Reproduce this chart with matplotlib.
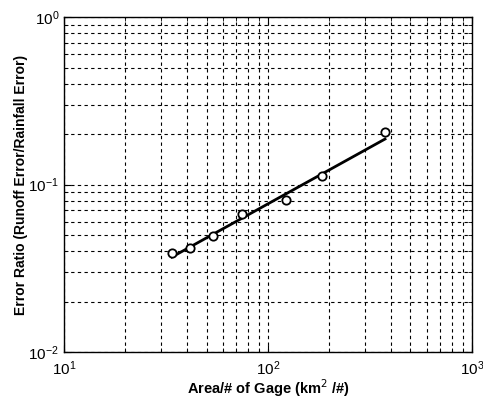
import matplotlib
matplotlib.use("Agg")
import matplotlib.pyplot as plt
from matplotlib.ticker import LogLocator, NullFormatter

plt.rcParams['font.family'] = ['Liberation Sans', 'DejaVu Sans']

area = [33.8, 41.5, 53.7, 74.6, 122, 184, 375]
ratio = [0.039, 0.0418, 0.0493, 0.0667, 0.0807, 0.1125, 0.2056]
fit_x = [33.8, 375]
fit_y = [0.0369, 0.187]

fig = plt.figure(figsize=(4.83, 3.98), dpi=100)
ax = fig.add_axes([0.1325, 0.1156, 0.8445, 0.8414])
ax.set_xscale('log')
ax.set_yscale('log')
ax.set_xlim(10, 1000)
ax.set_ylim(0.01, 1)

ax.plot(fit_x, fit_y, color='black', lw=2, zorder=3)
ax.plot(area, ratio, 'o', mfc='white', mec='black', ms=6, mew=1.3, zorder=4)

ax.xaxis.set_major_locator(LogLocator(base=10))
ax.yaxis.set_major_locator(LogLocator(base=10))
ax.xaxis.set_minor_locator(LogLocator(base=10, subs=range(2, 10)))
ax.yaxis.set_minor_locator(LogLocator(base=10, subs=range(2, 10)))
ax.xaxis.set_minor_formatter(NullFormatter())
ax.yaxis.set_minor_formatter(NullFormatter())

ax.grid(True, which='both', color='black', linestyle=(0, (3, 3)), linewidth=0.8)
ax.tick_params(which='both', direction='in', top=True, right=True, labelsize=11)
ax.tick_params(which='major', length=5)
ax.tick_params(which='minor', length=3)
ax.tick_params(axis='x', pad=5)
for s in ax.spines.values():
    s.set_linewidth(1.0)

ax.set_xlabel('Area/# of Gage (km$^2$ /#)', fontsize=10.5, fontweight='bold', labelpad=0)
ax.set_ylabel('Error Ratio (Runoff Error/Rainfall Error)', fontsize=10, fontweight='bold', labelpad=0)

fig.savefig('out.png', dpi=100)
